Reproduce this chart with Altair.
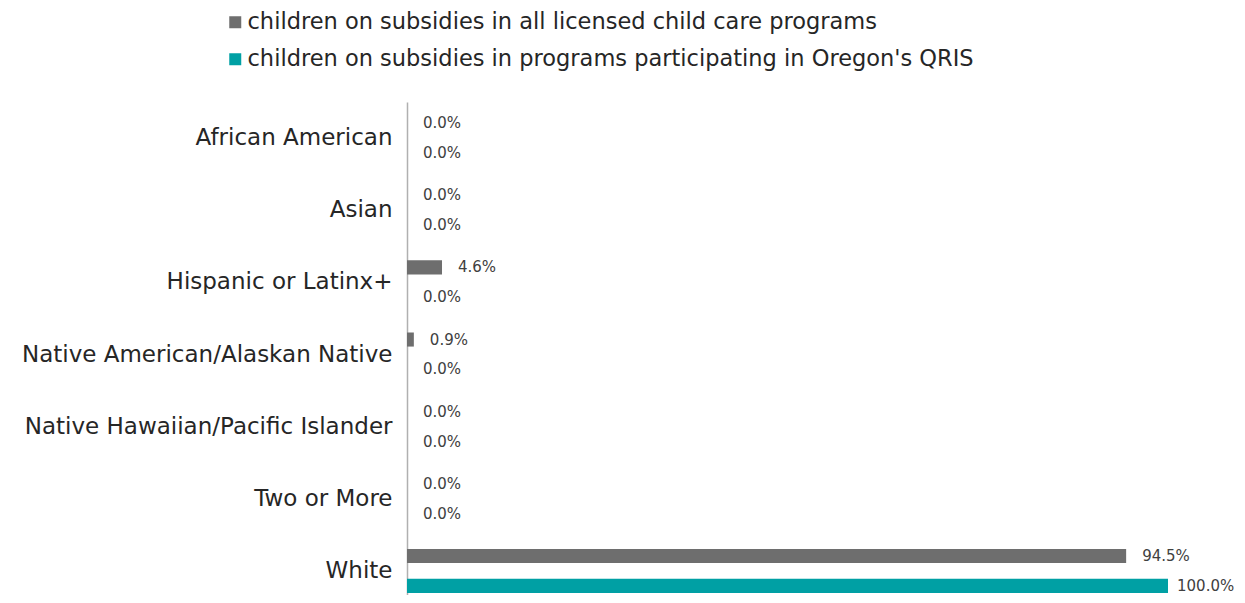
import altair as alt
import pandas as pd

categories = [
    "African American",
    "Asian",
    "Hispanic or Latinx+",
    "Native American/Alaskan Native",
    "Native Hawaiian/Pacific Islander",
    "Two or More",
    "White",
]
series_names = [
    "children on subsidies in all licensed child care programs",
    "children on subsidies in programs participating in Oregon's QRIS",
]
all_licensed = [0.0, 0.0, 0.046, 0.009, 0.0, 0.0, 0.945]
qris = [0.0, 0.0, 0.0, 0.0, 0.0, 0.0, 1.0]
colors = ["#6E6E6E", "#00A0A4"]

rows = []
for c, a, q in zip(categories, all_licensed, qris):
    rows.append({"category": c, "series": series_names[0], "value": a})
    rows.append({"category": c, "series": series_names[1], "value": q})
df = pd.DataFrame(rows)

FONT = "DejaVu Sans"

y_enc = alt.Y(
    "category:N",
    sort=categories,
    scale=alt.Scale(paddingInner=0, paddingOuter=0, range=[0, 505]),
    axis=alt.Axis(
        title=None,
        ticks=False,
        labelPadding=15,
        labelFontSize=23,
        labelFont=FONT,
        labelColor="#262626",
        labelLimit=500,
        domainColor="#B0B0B0",
        domainWidth=1.5,
    ),
)
x_enc = alt.X("value:Q", scale=alt.Scale(domain=[0, 1]), axis=None)
yoff = alt.YOffset(
    "series:N", sort=series_names, scale=alt.Scale(paddingInner=0.53, paddingOuter=0.47)
)

base = alt.Chart(df).encode(y=y_enc, yOffset=yoff)

bars = base.mark_bar().encode(
    x=x_enc,
    color=alt.Color(
        "series:N",
        sort=series_names,
        scale=alt.Scale(domain=series_names, range=colors),
        legend=alt.Legend(
            title=None,
            orient="none",
            legendX=-183,
            legendY=-91,
            direction="vertical",
            symbolType="square",
            symbolSize=144,
            symbolStrokeWidth=0,
            labelFontSize=22.5,
            labelFont=FONT,
            labelColor="#262626",
            labelLimit=1000,
            labelOffset=1,
            rowPadding=14,
            padding=0,
        ),
    ),
)

text_style = dict(align="left", baseline="middle", fontSize=15, font=FONT, color="#404040")
labels = base.mark_text(dx=16, **text_style).encode(
    x=x_enc, text=alt.Text("value:Q", format=".1%")
).transform_filter("datum.value < 0.99")
labels_full = base.mark_text(dx=9, **text_style).encode(
    x=x_enc, text=alt.Text("value:Q", format=".1%")
).transform_filter("datum.value >= 0.99")

chart = (
    alt.layer(bars, labels, labels_full)
    .properties(
        width=761,
        height=493,
        padding={"left": 399, "top": 94, "right": 69, "bottom": 0},
        autosize="none",
        background="white",
    )
    .configure_view(stroke="transparent", strokeWidth=0)
)

chart.save("out.html", embed_options={"renderer": "svg", "actions": False})
